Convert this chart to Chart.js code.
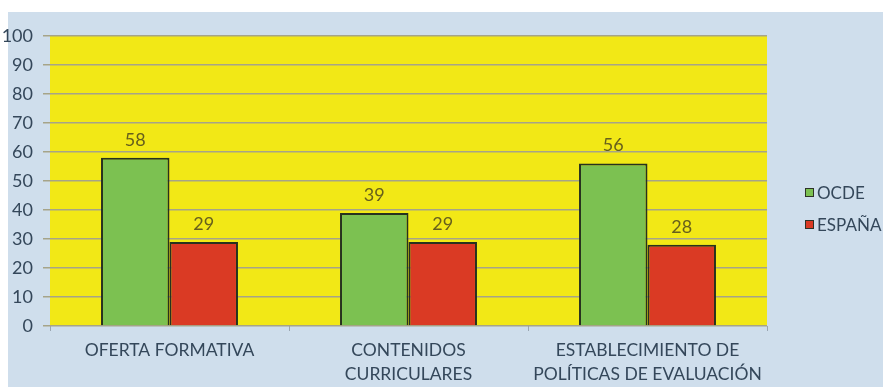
<!DOCTYPE html>
<html>
<head>
<meta charset="utf-8">
<script src="https://cdn.jsdelivr.net/npm/chart.js@4/dist/chart.umd.min.js"></script>
<style>
  html, body { margin: 0; padding: 0; background: #ffffff; }
  #wrap { width: 883px; height: 387px; position: relative; }
</style>
</head>
<body>
<div id="wrap"><canvas id="chart" width="883" height="387"></canvas></div>
<script>
const categories = [
    "OFERTA FORMATIVA",
    ["CONTENIDOS", "CURRICULARES"],
    ["ESTABLECIMIENTO DE", "POLÍTICAS DE EVALUACIÓN"]
];
const ocdeValues = [58, 39, 56];
const espanaValues = [29, 29, 28];
const seriesNames = ["OCDE", "ESPAÑA"];

const textColor = '#34475a';
const fontFamily = 'Lato, "Open Sans", sans-serif';

// light blue panel behind everything, yellow plot area
const backgroundPlugin = {
    id: 'panels',
    beforeDraw(chart) {
        const ctx = chart.ctx;
        const a = chart.chartArea;
        ctx.save();
        ctx.fillStyle = '#ffffff';
        ctx.fillRect(0, 0, chart.width, chart.height);
        ctx.fillStyle = '#cfdeec';
        ctx.fillRect(8, 12, chart.width - 8, chart.height - 12);
        ctx.fillStyle = '#f2e816';
        ctx.fillRect(a.left, a.top, a.right - a.left, a.bottom - a.top);
        ctx.restore();
    }
};

// numbers above each bar
const valueLabels = {
    id: 'valueLabels',
    afterDatasetsDraw(chart) {
        const ctx = chart.ctx;
        ctx.save();
        ctx.font = '18px ' + fontFamily;
        ctx.fillStyle = '#67601c';
        ctx.textAlign = 'center';
        ctx.textBaseline = 'middle';
        chart.data.datasets.forEach((ds, i) => {
            chart.getDatasetMeta(i).data.forEach((bar, j) => {
                ctx.fillText(ds.data[j], bar.x, bar.y - 18);
            });
        });
        ctx.restore();
    }
};

// legend on the right, small squares with a dark outline
const sideLegend = {
    id: 'sideLegend',
    afterDraw(chart) {
        const ctx = chart.ctx;
        ctx.save();
        ctx.font = '17px ' + fontFamily;
        ctx.textBaseline = 'middle';
        chart.data.datasets.forEach((ds, i) => {
            const y = 193 + i * 32;
            ctx.fillStyle = ds.backgroundColor;
            ctx.fillRect(806, y - 4, 7, 7);
            ctx.strokeStyle = '#2e3328';
            ctx.lineWidth = 1;
            ctx.strokeRect(805.5, y - 4.5, 8, 8);
            ctx.fillStyle = textColor;
            ctx.fillText(ds.label, 817, y + 1);
        });
        ctx.restore();
    }
};

new Chart(document.getElementById('chart').getContext('2d'), {
    type: 'bar',
    data: {
        labels: categories,
        datasets: [{
            label: seriesNames[0],
            data: ocdeValues,
            backgroundColor: '#7cc151',
            borderColor: '#27321f',
            borderWidth: 2,
            categoryPercentage: 0.573,
            barPercentage: 1.0
        }, {
            label: seriesNames[1],
            data: espanaValues,
            backgroundColor: '#da3a24',
            borderColor: '#27321f',
            borderWidth: 2,
            categoryPercentage: 0.573,
            barPercentage: 1.0
        }]
    },
    options: {
        responsive: false,
        animation: false,
        layout: { padding: { left: 0, top: 36, right: 116, bottom: 0 } },
        plugins: {
            legend: { display: false },
            tooltip: { enabled: false }
        },
        scales: {
            x: {
                afterFit(scale) { scale.height = 61; },
                grid: {
                    offset: true,
                    drawOnChartArea: false,
                    tickLength: 5,
                    color: '#9aa6b2'
                },
                border: { display: false },
                ticks: {
                    color: textColor,
                    font: { family: fontFamily, size: 17.5, lineHeight: 1.35 },
                    padding: 8,
                    maxRotation: 0
                }
            },
            y: {
                min: 0,
                max: 100,
                afterFit(scale) { scale.width = 50; },
                grid: {
                    color: '#a6a488',
                    lineWidth: 1.5,
                    tickLength: 7
                },
                border: { display: false },
                ticks: {
                    stepSize: 10,
                    color: textColor,
                    font: { family: fontFamily, size: 18 },
                    padding: 10
                }
            }
        }
    },
    plugins: [backgroundPlugin, valueLabels, sideLegend]
});
</script>
</body>
</html>
